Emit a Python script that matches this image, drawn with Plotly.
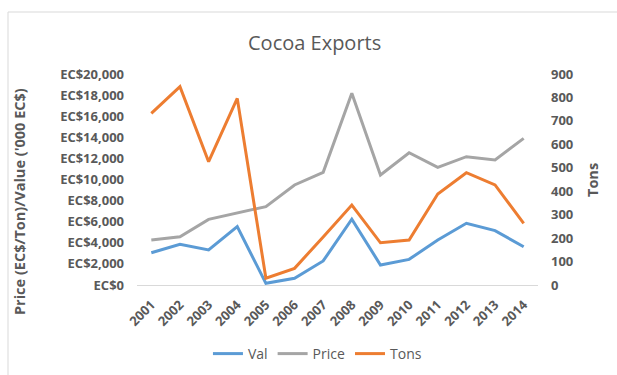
import plotly.graph_objects as go

years = [str(y) for y in range(2001, 2015)]
val = [3060, 3860, 3320, 5530, 160, 640, 2280, 6230, 1900, 2430, 4270, 5850, 5150, 3630]
price = [4270, 4580, 6220, 6860, 7430, 9480, 10680, 18170, 10430, 12540, 11150, 12160, 11850, 13900]
tons = [732, 846, 526, 796, 29, 71, 205, 341, 180, 192, 388, 479, 427, 263]

W, H = 617, 375
L, R, T, B = 137, 79, 74, 90
pw, ph = W - L - R, H - T - B

def px_x(x):
    return (x - L) / pw

def px_y(y):
    return (H - B - y) / ph

txt = "#595959"
font_fam = "Open Sans, Liberation Sans, sans-serif"

fig = go.Figure()
fig.add_trace(go.Scatter(x=years, y=val, name="Val", mode="lines",
                         line=dict(color="#5B9BD5", width=3)))
fig.add_trace(go.Scatter(x=years, y=price, name="Price", mode="lines",
                         line=dict(color="#A5A5A5", width=3)))
fig.add_trace(go.Scatter(x=years, y=tons, name="Tons", mode="lines",
                         line=dict(color="#ED7D31", width=3), yaxis="y2"))

fig.update_layout(
    width=W, height=H,
    margin=dict(l=L, r=R, t=T, b=B, autoexpand=False),
    paper_bgcolor="white", plot_bgcolor="white",
    font=dict(family=font_fam, color=txt),
    showlegend=True,
    legend=dict(orientation="h", x=0.45, xanchor="center",
                yref="container", y=1 - 354 / H, yanchor="middle",
                font=dict(size=14, color=txt), tracegroupgap=0),
    xaxis=dict(type="category", range=[-0.5, len(years) - 0.5],
               showgrid=False, zeroline=False, automargin=False,
               showline=True, linecolor="#d9d9d9", linewidth=1,
               tickangle=-45, ticks="", ticklabelstandoff=6,
               tickfont=dict(size=13, color=txt, weight="bold")),
    yaxis=dict(range=[0, 20000], dtick=2000, tickprefix="EC$", tickformat=",d",
               showgrid=False, zeroline=False, showline=False, ticks="",
               automargin=False, ticklabelstandoff=12,
               tickfont=dict(size=13, color=txt, weight="bold")),
    yaxis2=dict(range=[0, 900], dtick=100, overlaying="y", side="right",
                showgrid=False, zeroline=False, showline=False, ticks="",
                automargin=False, ticklabelstandoff=12,
                tickfont=dict(size=13, color=txt, weight="bold")),
    shapes=[dict(type="rect", xref="paper", yref="paper",
                 x0=px_x(8), x1=px_x(660), y0=px_y(12), y1=px_y(420),
                 line=dict(color="#d9d9d9", width=1), fillcolor="rgba(0,0,0,0)",
                 layer="below")],
    annotations=[
        dict(text="Cocoa Exports", xref="paper", yref="paper",
             x=px_x(314), y=px_y(42), xanchor="center", yanchor="middle",
             showarrow=False, font=dict(size=20, color=txt)),
        dict(text="Price (EC$/Ton)/Value ('000 EC$)", xref="paper", yref="paper",
             x=px_x(19), y=px_y(202), xanchor="center", yanchor="middle",
             textangle=-90, showarrow=False,
             font=dict(size=14.5, color=txt, weight="bold")),
        dict(text="Tons", xref="paper", yref="paper",
             x=px_x(592), y=px_y(180), xanchor="center", yanchor="middle",
             textangle=-90, showarrow=False,
             font=dict(size=14.5, color=txt, weight="bold")),
    ],
)

fig.write_html("out.html")
